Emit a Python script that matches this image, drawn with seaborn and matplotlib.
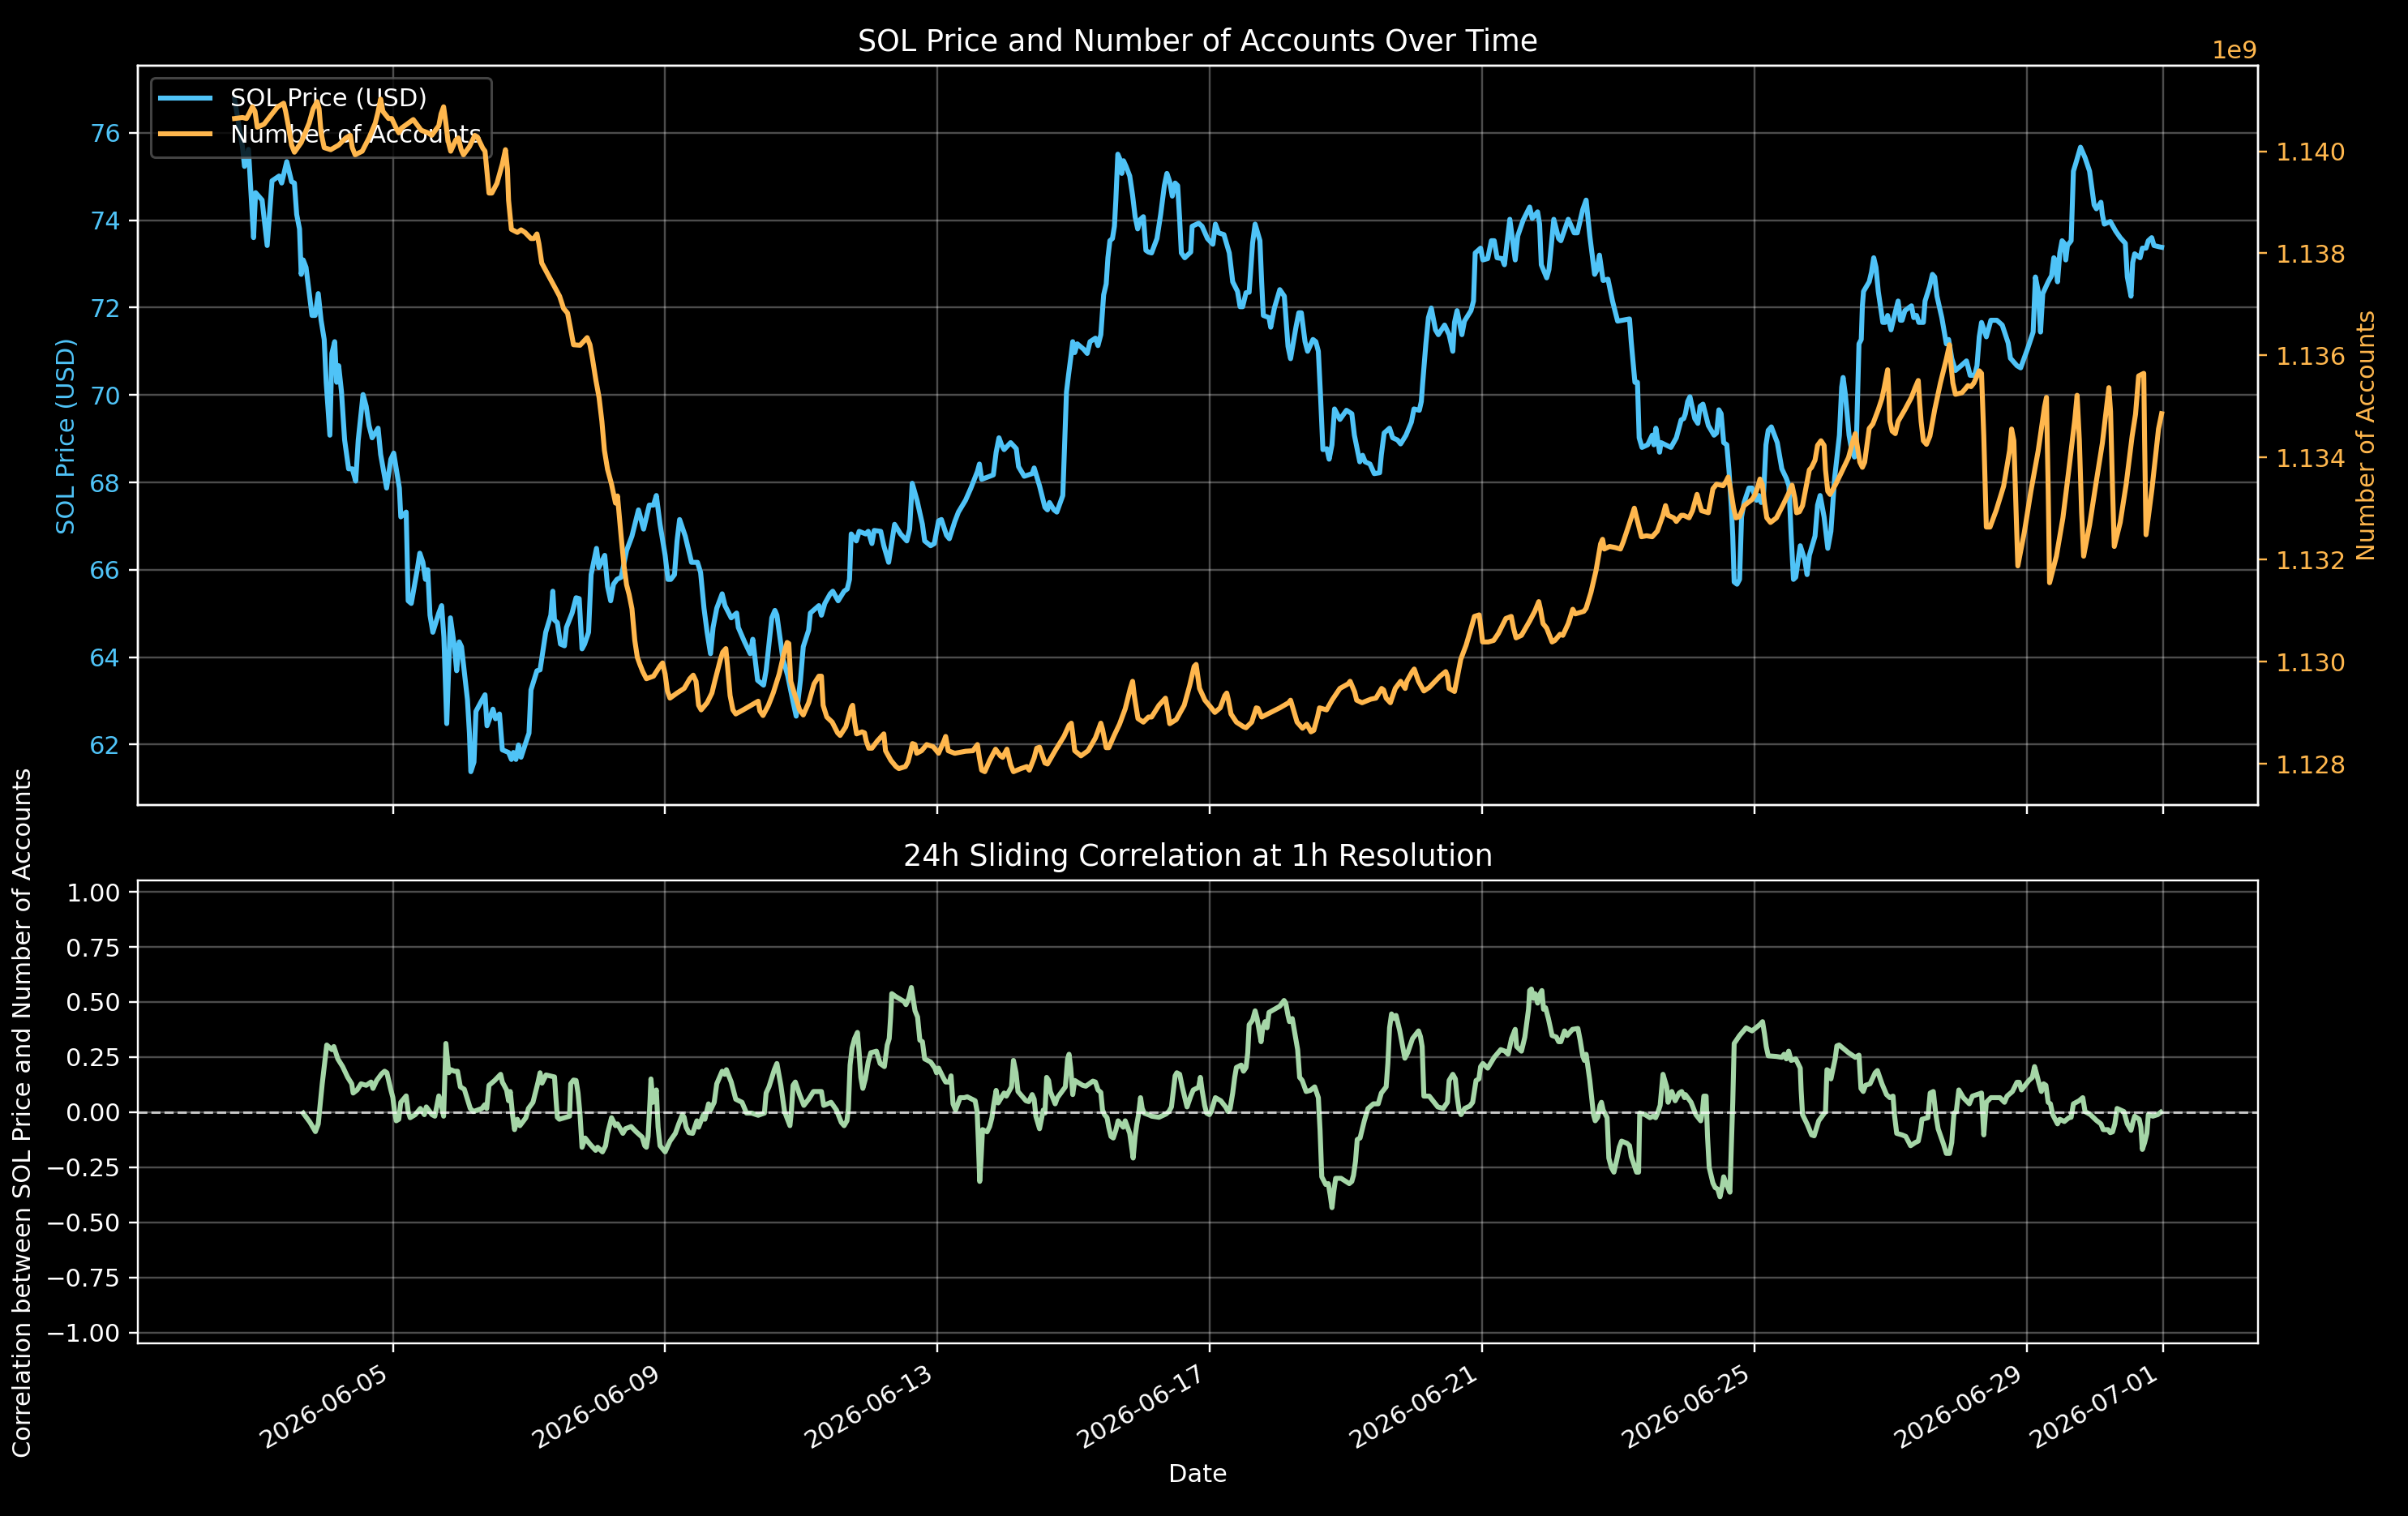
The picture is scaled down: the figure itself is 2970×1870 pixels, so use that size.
import pandas as pd
import matplotlib
matplotlib.use("Agg")
import matplotlib.pyplot as plt
import seaborn as sns

# ---------------- data ----------------
START = "2026-06-02 16:00"  # first hourly sample

price_hours = [
    0.2, 3.0, 3.7, 5.1, 6.9, 7.6, 9.9, 11.7, 13.4, 15.9,
    16.8, 18.6, 20.3, 21.3, 22.1, 23.1, 23.7, 24.4, 25.4, 27.5,
    28.6, 29.7, 30.7, 31.8, 32.5, 33.2, 33.8, 34.5, 35.5, 36.2,
    36.9, 37.9, 39.0, 40.4, 41.7, 42.9, 43.8, 45.5, 46.6, 47.6,
    48.7, 50.8, 51.7, 53.8, 55.3, 56.3, 58.3, 58.8, 60.7, 61.4,
    62.5, 64.6, 65.5, 66.6, 67.5, 68.3, 69.1, 70.1, 72.2, 73.2,
    74.0, 75.0, 76.3, 77.7, 78.5, 79.4, 80.2, 82.3, 83.0, 83.5,
    84.6, 85.3, 87.1, 88.5, 89.2, 91.3, 92.2, 93.6, 94.6, 96.8,
    97.8, 98.5, 99.4, 100.3, 101.2, 103.4, 104.0, 104.7, 106.8, 107.9,
    109.9, 111.7, 112.4, 113.0, 114.0, 115.1, 116.5, 117.2, 119.2, 120.6,
    121.7, 122.7, 123.6, 125.0, 125.9, 127.8, 128.6, 130.7, 131.7, 132.8,
    133.8, 135.0,
    136.5, 138.4, 140.3, 142.6, 144.4, 146.4, 147.9, 148.9, 150.2, 152.0,
    153.0, 154.0, 155.3, 156.2, 157.1, 159.1, 161.3, 163.4, 164.5, 165.7,
    166.8, 168.0, 168.9, 170.2, 172.1, 173.1, 175.3, 177.2, 177.8, 180.0,
    182.0, 182.9, 184.6, 186.7, 187.6, 189.6, 190.7, 191.4, 193.5, 195.2,
    197.1, 198.2, 199.7, 200.7, 202.6, 203.2, 206.2, 207.1, 208.3, 210.2,
    211.1, 213.0, 215.1, 216.2, 217.0, 217.6, 219.4, 220.4, 222.7, 223.6,
    224.9, 225.7, 228.0, 229.1, 230.8, 232.9, 235.0, 237.2, 238.2, 239.1,
    240.8, 242.7, 243.5, 245.6, 246.9, 248.4, 249.4, 251.2, 252.2, 254.1,
    255.4, 257.9, 259.8, 262.1, 262.8, 263.6, 267.7, 268.7, 269.7, 270.6,
    271.5, 273.8, 275.8, 276.6, 278.6, 281.4, 282.1, 284.0, 285.9, 286.8,
    287.5, 289.1, 290.1, 292.2, 292.9, 293.5, 294.2, 295.2, 295.7, 296.4,
    297.3, 299.5, 300.8, 301.8, 303.7, 304.6, 305.6, 306.6, 307.5, 308.1,
    308.8, 309.7, 310.4, 310.9, 311.6, 312.3, 313.0, 313.6, 314.5, 315.8,
    316.8, 317.7, 318.6, 319.6, 320.6, 321.5, 322.4,
    323.5, 325.4, 326.7, 328.0, 328.9, 329.9, 330.8, 331.8, 332.7, 333.4,
    334.0, 335.2, 337.3, 337.8, 340.1, 341.3, 343.2, 345.1, 346.0, 347.1,
    349.0, 350.9, 352.1, 353.8, 354.7, 355.6, 356.8, 357.9, 359.1, 360.0,
    361.7, 362.3, 362.9, 364.9, 365.5, 366.8, 368.7, 370.3, 371.6, 372.5,
    374.4, 375.4, 376.3, 377.6, 378.5, 380.4, 381.4, 382.3, 383.0, 383.9,
    385.3, 386.1, 387.1, 388.0, 389.9, 392.2, 394.1, 395.0, 396.9, 397.9,
    398.8, 400.5, 402.0, 403.9, 404.5, 405.5, 407.4, 408.5, 410.2, 411.3,
    413.2, 415.1, 416.0, 417.9, 418.6, 419.1, 420.2, 421.1, 422.1, 423.6,
    424.6, 426.8, 428.4, 429.7, 430.3, 431.2, 432.9, 433.8, 436.1, 437.0,
    437.6, 439.5, 440.3, 442.0, 443.3, 444.3, 445.3, 447.1, 447.9, 449.8,
    451.7, 452.6, 454.5, 456.8, 457.7, 459.6, 460.3, 460.9, 462.8, 463.6,
    465.3, 467.0, 467.8, 470.4, 472.5, 473.6, 475.5, 476.7, 478.0, 479.7,
    480.6, 481.4, 482.7, 484.4, 486.0, 487.8, 492.0, 492.6, 493.9, 494.8,
    495.4, 496.4, 498.4, 500.0, 500.6, 501.3, 502.6, 503.1, 504.7, 506.6,
    508.5, 510.2, 511.1,
    511.7, 512.5, 513.3, 515.0, 516.1, 516.9, 517.9, 519.8, 521.8, 522.7,
    523.5, 524.3, 525.2, 526.3, 527.1, 527.9, 528.4, 528.9, 529.9, 530.8,
    531.5, 532.4, 534.1, 535.2, 536.8, 537.6, 538.4, 539.2, 540.1, 540.9,
    542.0, 544.1, 545.7, 547.3, 548.2, 549.0, 549.8, 550.6, 552.2, 553.8,
    554.6, 555.4, 557.4, 558.3, 559.2, 560.6, 561.9, 563.0, 564.3, 566.0,
    566.8, 567.3, 568.1, 569.4, 570.3, 571.3, 572.0, 572.9, 573.7, 574.1,
    574.5, 576.5, 577.3, 578.1, 578.9, 579.7, 581.3, 582.1, 583.0, 584.2,
    585.4, 586.7, 587.5, 588.1, 589.1, 591.4, 592.2, 593.2, 594.0, 595.6,
    596.2, 597.8, 598.8, 599.6, 600.4, 602.1, 603.7, 604.5, 605.6, 606.9,
    608.9, 610.8, 612.1, 613.7, 614.5, 615.3, 616.1, 617.8, 619.4, 621.5,
    623.4, 625.5, 626.3, 628.6, 629.9, 632.3, 634.3, 635.1, 636.1, 636.9,
    637.7, 639.6, 640.8, 641.6, 642.1, 642.9, 643.7, 644.5, 645.3, 645.8,
    646.4, 647.7, 648.5, 649.3, 651.0, 652.6, 654.2, 655.0, 655.8, 656.6,
    658.2, 658.7, 659.4, 661.5, 663.4, 665.0, 666.8, 667.5, 668.8, 669.4,
    670.1, 672.0, 672.8, 674.1, 674.9, 676.1, 676.9, 678.8, 679.6,
]
price_usd = [
    76.77, 75.67, 75.23, 75.62, 73.60, 74.63, 74.46, 73.42, 74.90, 75.01,
    74.85, 75.34, 74.88, 74.85, 74.13, 73.80, 72.76, 73.09, 72.92, 71.82,
    71.82, 72.32, 71.71, 71.27, 70.29, 69.63, 69.08, 70.95, 71.22, 70.29,
    70.67, 70.07, 68.97, 68.31, 68.31, 68.03, 68.97, 70.01, 69.74, 69.30,
    69.02, 69.24, 68.64, 67.87, 68.53, 68.67, 67.87, 67.21, 67.32, 65.29,
    65.23, 66.00, 66.38, 66.17, 65.78, 66.00, 64.96, 64.57, 65.01, 65.18,
    64.46, 62.48, 64.90, 64.24, 63.69, 64.35, 64.24, 63.03, 62.26, 61.38,
    61.60, 62.76, 62.98, 63.14, 62.43, 62.81, 62.59, 62.70, 61.88, 61.82,
    61.66, 61.82, 61.66, 61.99, 61.71, 62.15, 62.26, 63.25, 63.69, 63.71,
    64.57, 64.96, 65.51, 64.85, 64.79, 64.30, 64.26, 64.68, 65.01, 65.36,
    65.34, 64.19, 64.30, 64.57, 65.89, 66.49, 66.05, 66.33, 65.62, 65.29,
    65.67, 65.78,
    65.83, 66.44, 66.77, 67.37, 66.93, 67.48, 67.48, 67.70, 67.04, 66.33,
    65.78, 65.78, 65.89, 66.66, 67.15, 66.77, 66.17, 66.17, 65.94, 65.12,
    64.57, 64.08, 64.68, 65.12, 65.45, 65.18, 64.90, 65.01, 64.68, 64.35,
    64.08, 64.41, 63.47, 63.36, 63.69, 64.90, 65.07, 64.96, 63.97, 63.58,
    62.98, 62.65, 63.47, 64.24, 64.62, 65.01, 65.18, 64.96, 65.23, 65.45,
    65.51, 65.29, 65.51, 65.56, 65.78, 66.82, 66.66, 66.88, 66.82, 66.88,
    66.60, 66.90, 66.88, 66.55, 66.17, 67.04, 66.82, 66.66, 66.93, 67.98,
    67.59, 67.04, 66.66, 66.55, 66.60, 67.12, 67.15, 66.79, 66.71, 67.10,
    67.32, 67.59, 67.87, 68.25, 68.42, 68.07, 68.17, 68.69, 69.02, 68.86,
    68.75, 68.91, 68.77, 68.36, 68.14, 68.20, 68.33, 67.92, 67.43, 67.37,
    67.54, 67.37, 67.32, 67.70, 68.97, 70.07, 70.45, 70.95, 71.22, 70.97,
    71.17, 71.05, 70.95, 71.22, 71.30, 71.13, 71.38, 72.29, 72.54, 73.14,
    73.53, 73.58, 73.86, 74.46, 75.51, 75.40, 75.07, 75.36, 75.23, 75.01,
    74.57, 74.08, 73.80, 74.02, 74.08, 73.31, 73.27,
    73.25, 73.58, 74.13, 74.79, 75.07, 74.88, 74.55, 74.85, 74.79, 74.02,
    73.25, 73.14, 73.27, 73.86, 73.93, 73.86, 73.58, 73.45, 73.91, 73.71,
    73.67, 73.25, 72.59, 72.37, 72.02, 72.02, 72.34, 72.35, 73.47, 73.91,
    73.53, 72.59, 71.82, 71.77, 71.55, 71.99, 72.41, 72.26, 71.11, 70.83,
    71.55, 71.88, 71.88, 71.22, 71.00, 71.27, 71.22, 71.00, 70.07, 68.75,
    68.77, 68.53, 68.86, 69.68, 69.44, 69.65, 69.57, 69.08, 68.47, 68.62,
    68.47, 68.42, 68.20, 68.22, 68.63, 69.13, 69.24, 69.02, 68.97, 68.88,
    69.08, 69.38, 69.68, 69.65, 69.85, 70.29, 71.17, 71.77, 71.99, 71.49,
    71.38, 71.60, 71.38, 71.00, 71.66, 71.93, 71.38, 71.69, 71.93, 72.15,
    73.25, 73.36, 73.09, 73.12, 73.53, 73.53, 73.14, 73.12, 72.98, 74.02,
    73.09, 73.64, 74.00, 74.30, 74.04, 74.19, 73.91, 72.98, 72.68, 72.87,
    74.02, 73.58, 73.53, 74.02, 73.71, 73.71, 74.24, 74.46, 73.64, 72.76,
    72.87, 73.20, 72.62, 72.65, 72.15, 71.69, 71.74, 71.22, 70.29, 70.29,
    69.02, 68.80, 68.86, 69.08, 68.86, 69.24, 68.69, 68.91, 68.86, 68.80,
    69.02, 69.43, 69.46,
    69.57, 69.85, 69.96, 69.46, 69.35, 69.74, 69.79, 69.30, 69.08, 69.13,
    69.66, 69.57, 68.91, 68.86, 68.25, 67.43, 66.77, 65.72, 65.67, 65.78,
    67.21, 67.54, 67.87, 67.87, 67.59, 67.70, 67.54, 67.65, 68.86, 69.19,
    69.27, 68.91, 68.31, 68.09, 67.92, 66.77, 65.78, 65.83, 66.55, 66.22,
    65.89, 66.33, 66.77, 67.48, 67.70, 67.21, 66.49, 66.88, 68.09, 69.08,
    70.18, 70.40, 70.01, 69.08, 68.75, 68.58, 68.97, 71.17, 71.27, 72.04,
    72.37, 72.59, 72.81, 73.14, 72.92, 72.37, 71.66, 71.66, 71.82, 71.49,
    71.82, 72.15, 71.71, 71.71, 71.93, 72.04, 71.77, 71.82, 71.66, 71.66,
    72.15, 72.48, 72.76, 72.70, 72.26, 71.77, 71.17, 71.27, 70.84, 70.56,
    70.67, 70.78, 70.45, 70.45, 70.67, 71.33, 71.66, 71.33, 71.71, 71.71,
    71.60, 71.19, 70.84, 70.67, 70.62, 71.05, 71.44, 72.70, 72.37, 71.44,
    72.32, 72.59, 72.73, 73.14, 73.09, 72.59, 73.25, 73.53, 73.47, 73.09,
    73.42, 73.53, 75.12, 75.29, 75.67, 75.43, 75.12, 74.74, 74.35, 74.26,
    74.41, 74.13, 73.91, 73.97, 73.75, 73.60, 73.47, 72.70, 72.26, 73.03,
    73.23, 73.14, 73.36, 73.36, 73.53, 73.60, 73.42, 73.39, 73.38,
]

account_hours = [
    0.2, 3.0, 4.4, 5.3, 6.5, 7.4, 8.2, 10.6, 13.1, 15.4,
    17.5, 18.2, 19.3, 20.3, 21.3, 23.7, 26.5, 27.9, 29.3, 30.0,
    30.7, 31.8, 34.1, 36.9, 39.4, 41.0, 41.7, 42.7, 45.2, 47.6,
    49.8, 50.7, 51.7, 52.5, 54.5, 55.6, 57.2, 58.1, 59.0, 63.2,
    66.0, 68.4, 69.7, 72.2, 73.0, 73.9, 74.7, 75.4, 76.4, 78.2,
    79.1, 80.1, 80.9, 83.0, 84.9, 85.8, 87.7, 88.5, 89.1, 89.9,
    90.9, 92.7, 94.6, 95.7, 96.4, 96.8, 97.8, 99.9, 101.2, 102.6,
    104.7, 105.7, 106.8, 107.5, 108.5, 111.2, 113.7, 114.8, 116.2, 117.6,
    118.6, 119.7, 122.0, 124.5, 125.5, 126.4, 127.6, 128.7, 129.7, 130.6,
    131.7, 133.1, 134.5,
    135.2, 136.5, 137.5, 138.4, 139.3, 140.3, 141.3, 142.2, 143.1, 144.1,
    145.4, 147.9, 150.2, 151.1, 152.0, 152.8, 153.7, 156.2, 158.7, 160.7,
    161.9, 162.9, 163.8, 164.7, 166.8, 168.5, 169.5, 171.5, 172.3, 173.4,
    174.0, 174.9, 175.9, 176.9, 179.5, 182.9, 184.8, 185.4, 186.5, 188.4,
    190.1, 192.2, 194.0, 195.0, 195.6, 196.3, 197.3, 199.4, 200.7, 202.6,
    204.5, 206.2, 207.1, 207.7, 209.0, 210.9, 212.8, 213.7, 215.7, 217.6,
    218.1, 218.8, 219.5, 221.4, 222.3, 222.9, 223.8, 224.9, 226.8, 229.1,
    229.7, 231.6, 233.4, 234.4, 236.7, 237.6, 238.5, 239.2, 240.1, 240.7,
    242.4, 244.2, 246.5, 248.4, 250.3, 250.9, 251.8, 254.1, 257.9, 260.5,
    262.1, 262.8, 263.6, 264.7, 266.4, 268.5, 270.2, 271.0, 272.5, 273.8,
    274.8, 277.4, 279.5, 280.4, 282.1, 283.0, 284.0, 285.9, 286.8, 289.7,
    292.6, 294.4, 295.2, 295.7, 296.4, 298.6, 301.1, 303.7, 305.6, 306.2,
    307.5, 308.4, 310.4, 312.2, 314.2, 316.0, 316.8, 317.4, 318.7, 320.6,
    322.4,
    323.5, 326.1, 328.4, 329.3, 329.9, 332.2, 335.0, 336.9, 338.5, 339.2,
    339.8, 340.4, 342.3, 344.1, 345.8, 347.7, 349.3, 350.0, 350.6, 351.5,
    353.4, 355.9, 356.8, 358.8, 360.4, 361.0, 362.3, 365.5, 368.7, 371.8,
    372.5, 373.4, 374.8, 376.7, 378.2, 379.7, 380.7, 382.0, 382.7, 385.2,
    387.1, 389.9, 392.8, 393.5, 395.1, 395.8, 397.7, 400.8, 402.6, 404.6,
    405.3, 406.2, 407.7, 409.4, 411.3, 412.9, 413.5, 415.3, 416.1, 417.6,
    419.5, 421.4, 425.2, 427.2, 427.8, 428.4, 430.3, 431.0, 432.5, 434.4,
    436.4, 437.3, 439.0, 439.5, 440.2, 442.2, 444.1, 445.8, 448.4, 450.3,
    451.1, 452.0, 453.9, 456.8, 458.6, 460.0, 460.6, 461.5, 462.8, 464.7,
    465.7, 467.5, 468.5, 470.4, 472.0, 472.9, 475.9, 476.7, 478.4, 480.2,
    481.8, 482.5, 483.1, 485.0, 486.9, 488.8, 489.8, 491.6, 493.7, 494.3,
    496.2, 498.0, 500.0, 501.8, 503.8, 504.7, 505.6, 507.6, 508.5, 510.2,
    511.1,
    513.0, 514.2, 515.8, 516.6, 517.4, 519.8, 520.6, 521.4, 522.7, 525.0,
    526.0, 526.8, 527.6, 528.7, 529.5, 530.7, 532.4, 535.2, 536.3, 537.3,
    538.0, 538.8, 539.6, 540.4, 541.7, 543.8, 546.0, 548.1, 549.3, 550.3,
    550.9, 551.9, 553.0, 554.6, 555.4, 556.2, 557.4, 558.3, 559.5, 560.6,
    561.1, 561.9, 562.7, 564.7, 566.8, 569.2, 570.8, 571.6, 572.4, 573.2,
    574.1, 574.9, 575.7, 576.5, 577.8, 579.7, 581.0, 581.8, 583.0, 583.4,
    583.8, 584.6, 585.7, 586.7, 589.1, 591.4, 592.7, 593.8, 594.3, 594.8,
    595.6, 596.7, 597.9, 599.6, 601.6, 603.7, 604.8, 605.3, 606.0, 606.9,
    609.2, 611.3, 612.4, 613.4, 615.3, 616.1, 616.9, 617.8, 619.1, 621.3,
    623.9, 626.0, 626.7, 627.5, 628.3, 628.9, 631.2, 633.5, 636.1, 638.3,
    639.0, 639.6, 640.1, 642.5, 644.8, 646.9, 649.0, 649.8, 650.6, 651.4,
    652.1, 654.2, 656.3, 658.7, 659.9, 661.0, 661.6, 662.3, 662.9, 665.0,
    667.1, 669.2, 670.4, 671.5, 673.3, 673.6, 674.1, 676.2, 678.5, 679.6,
]
accounts_millions = [
    1140.64, 1140.66, 1140.64, 1140.73, 1140.87, 1140.78, 1140.47, 1140.53, 1140.71, 1140.87,
    1140.94, 1140.78, 1140.45, 1140.12, 1139.98, 1140.17, 1140.55, 1140.83, 1140.97, 1140.83,
    1140.36, 1140.07, 1140.03, 1140.12, 1140.26, 1140.31, 1140.07, 1139.93, 1140.00, 1140.26,
    1140.55, 1140.75, 1141.02, 1140.78, 1140.64, 1140.64, 1140.45, 1140.36, 1140.45, 1140.62,
    1140.41, 1140.36, 1140.31, 1140.50, 1140.73, 1140.87, 1140.55, 1140.22, 1140.00, 1140.22,
    1140.26, 1140.03, 1139.93, 1140.09, 1140.31, 1140.28, 1140.06, 1140.00, 1139.65, 1139.18,
    1139.18, 1139.37, 1139.75, 1140.03, 1139.65, 1139.04, 1138.47, 1138.41, 1138.46, 1138.41,
    1138.29, 1138.29, 1138.38, 1138.19, 1137.81, 1137.53, 1137.27, 1137.16, 1136.92, 1136.83,
    1136.54, 1136.21, 1136.20, 1136.35, 1136.21, 1135.93, 1135.51, 1135.18, 1134.71, 1134.14,
    1133.77, 1133.48, 1133.11,
    1133.25, 1132.45, 1131.88, 1131.51, 1131.32, 1131.04, 1130.42, 1130.09, 1129.95, 1129.81,
    1129.67, 1129.72, 1129.92, 1129.98, 1129.76, 1129.43, 1129.29, 1129.39, 1129.48, 1129.67,
    1129.74, 1129.62, 1129.15, 1129.06, 1129.20, 1129.39, 1129.62, 1130.05, 1130.19, 1130.26,
    1129.91, 1129.34, 1129.06, 1128.98, 1129.06, 1129.17, 1129.23, 1129.04, 1128.95, 1129.15,
    1129.39, 1129.76, 1130.19, 1130.38, 1130.36, 1129.62, 1129.43, 1129.06, 1128.96, 1129.20,
    1129.57, 1129.72, 1129.72, 1129.15, 1128.92, 1128.82, 1128.61, 1128.56, 1128.73, 1129.11,
    1129.15, 1128.82, 1128.59, 1128.63, 1128.61, 1128.45, 1128.31, 1128.31, 1128.45, 1128.59,
    1128.26, 1128.07, 1127.95, 1127.91, 1127.95, 1128.04, 1128.23, 1128.40, 1128.38, 1128.21,
    1128.26, 1128.38, 1128.34, 1128.21, 1128.45, 1128.54, 1128.26, 1128.21, 1128.25, 1128.26,
    1128.38, 1128.12, 1127.88, 1127.85, 1128.07, 1128.29, 1128.16, 1128.13, 1128.29, 1127.98,
    1127.85, 1127.91, 1127.95, 1127.88, 1128.12, 1128.31, 1128.33, 1128.02, 1128.00, 1128.28,
    1128.54, 1128.76, 1128.80, 1128.59, 1128.26, 1128.16, 1128.26, 1128.51, 1128.80, 1128.68,
    1128.32, 1128.32, 1128.57, 1128.78, 1129.08, 1129.48, 1129.62, 1129.34, 1128.89, 1128.82,
    1128.92,
    1128.92, 1129.15, 1129.29, 1129.01, 1128.79, 1128.87, 1129.15, 1129.53, 1129.91, 1129.95,
    1129.72, 1129.48, 1129.25, 1129.13, 1129.01, 1129.10, 1129.34, 1129.39, 1129.25, 1128.98,
    1128.82, 1128.73, 1128.71, 1128.82, 1129.10, 1129.09, 1128.92, 1129.01, 1129.10, 1129.20,
    1129.25, 1129.08, 1128.82, 1128.70, 1128.78, 1128.63, 1128.66, 1128.92, 1129.10, 1129.06,
    1129.25, 1129.48, 1129.57, 1129.62, 1129.41, 1129.25, 1129.20, 1129.27, 1129.29, 1129.48,
    1129.45, 1129.29, 1129.20, 1129.48, 1129.62, 1129.48, 1129.62, 1129.80, 1129.86, 1129.62,
    1129.43, 1129.50, 1129.72, 1129.81, 1129.72, 1129.48, 1129.42, 1129.62, 1130.05, 1130.33,
    1130.71, 1130.89, 1130.92, 1130.71, 1130.39, 1130.39, 1130.42, 1130.56, 1130.85, 1130.89,
    1130.66, 1130.47, 1130.52, 1130.80, 1130.99, 1131.18, 1131.03, 1130.75, 1130.66, 1130.39,
    1130.42, 1130.54, 1130.52, 1130.75, 1131.03, 1130.94, 1130.99, 1131.05, 1131.36, 1131.79,
    1132.31, 1132.40, 1132.21, 1132.26, 1132.24, 1132.21, 1132.35, 1132.65, 1133.01, 1132.87,
    1132.45, 1132.47, 1132.45, 1132.56, 1132.87, 1133.06, 1132.87, 1132.82, 1132.75, 1132.87,
    1132.87,
    1132.82, 1132.96, 1133.28, 1133.11, 1132.96, 1132.92, 1133.15, 1133.39, 1133.48, 1133.45,
    1133.53, 1133.62, 1133.39, 1133.01, 1132.82, 1132.84, 1133.06, 1133.18, 1133.28, 1133.44,
    1133.58, 1133.48, 1133.11, 1132.82, 1132.73, 1132.82, 1133.06, 1133.30, 1133.46, 1133.20,
    1132.92, 1132.94, 1133.06, 1133.53, 1133.76, 1133.81, 1133.95, 1134.24, 1134.33, 1134.24,
    1133.76, 1133.34, 1133.28, 1133.48, 1133.72, 1134.00, 1134.33, 1134.47, 1134.19, 1133.91,
    1133.81, 1133.91, 1134.24, 1134.57, 1134.66, 1134.94, 1135.16, 1135.37, 1135.72, 1135.27,
    1134.71, 1134.52, 1134.47, 1134.71, 1134.94, 1135.18, 1135.37, 1135.51, 1135.08, 1134.71,
    1134.33, 1134.26, 1134.42, 1134.94, 1135.46, 1135.93, 1136.21, 1135.84, 1135.46, 1135.24,
    1135.27, 1135.41, 1135.39, 1135.46, 1135.70, 1135.65, 1134.42, 1132.64, 1132.64, 1132.97,
    1133.44, 1134.14, 1134.56, 1134.33, 1132.92, 1131.88, 1132.54, 1133.34, 1134.14, 1134.99,
    1135.18, 1133.39, 1131.55, 1132.07, 1132.82, 1133.77, 1134.75, 1135.22, 1134.33, 1132.92,
    1132.07, 1132.68, 1133.44, 1134.28, 1134.85, 1135.37, 1134.90, 1133.39, 1132.26, 1132.73,
    1133.48, 1134.42, 1134.85, 1135.60, 1135.65, 1134.33, 1132.49, 1133.39, 1134.56, 1134.86,
]

corr_hours = [
    24.4, 26.8, 28.7, 29.7, 31.1, 32.7, 34.5, 35.2, 36.6, 38.3,
    40.1, 41.5, 42.0, 43.4, 44.8, 46.6, 48.3, 49.0, 50.3, 52.1,
    53.1, 53.9, 55.3, 56.0, 56.6, 57.2, 58.1, 58.8, 60.7, 61.4,
    62.1, 63.9, 65.7, 67.1, 67.8, 69.8, 70.8, 72.2, 73.0, 73.9,
    74.7, 75.7, 76.4, 77.7, 78.8, 79.8, 81.2, 83.3, 84.4, 87.4,
    88.4, 89.1, 89.9, 91.9, 94.0, 94.6, 96.1, 96.8, 97.4, 98.2,
    98.9, 99.9, 100.8, 102.9, 103.8, 105.4, 107.2, 107.9, 108.6, 110.0,
    113.0, 113.4, 114.0, 114.7, 118.3, 118.7, 119.7, 120.6, 121.3, 122.0,
    122.7, 123.8, 125.5, 127.5, 128.2, 129.9, 131.0, 131.7, 133.1, 134.5,
    135.2, 137.1, 138.0, 140.0, 141.8, 143.9, 144.8, 145.4, 146.0, 146.7,
    147.0, 147.7, 148.4, 148.9, 149.5, 150.2, 152.0, 153.7, 155.6, 156.8,
    158.1, 158.7, 159.4, 160.4, 161.7, 163.2, 163.8, 165.5, 166.0, 167.3,
    168.0, 169.3, 170.2, 172.1, 173.0, 173.6, 175.3, 176.9, 179.1, 180.7,
    182.5, 184.8, 187.0, 187.6, 188.6, 190.5, 191.4, 192.8, 194.1, 196.0,
    196.5, 197.1, 197.9, 199.4, 200.9, 202.6, 204.3, 207.1, 207.9, 210.5,
    212.4, 214.1, 215.1, 216.1, 216.6, 217.2, 217.9, 218.8, 219.8, 220.4,
    221.0, 221.7, 222.6, 223.6, 224.5, 226.5, 227.8, 229.3, 230.3, 231.0,
    231.5, 231.9, 233.4, 236.3, 236.9, 237.9, 238.8, 239.5, 240.1, 241.0,
    241.8, 242.7, 243.5, 245.6, 247.1, 247.7, 248.4, 250.0, 250.9, 252.2,
    252.8, 253.5, 254.4, 256.0, 257.5, 258.5, 261.3, 262.0, 262.4, 262.9,
    263.4, 263.9, 265.5, 266.4, 267.2, 267.8, 268.7, 269.4, 271.5, 272.3,
    274.1, 274.8, 275.7, 276.4, 279.2, 280.2, 281.4, 282.1, 282.7, 284.0,
    285.3, 285.9, 286.5, 287.2, 287.8, 289.5, 290.3, 293.1, 293.9, 294.4,
    295.0, 295.7, 296.4, 299.2, 300.3, 302.8, 303.7, 304.6, 305.6, 306.2,
    306.9, 307.8, 308.4, 309.2, 310.0, 310.9, 311.7, 312.6, 313.5, 314.2,
    315.8, 316.4, 317.0, 317.7, 318.3, 318.9, 319.6, 320.2, 320.9, 323.1,
    323.5, 326.1, 328.6, 329.6, 330.5, 331.2, 331.8, 332.4, 333.4, 334.3,
    335.2, 336.0, 337.3, 338.2, 340.1, 340.7, 341.3, 342.2, 342.9, 343.9,
    344.5, 346.0, 347.9, 349.6, 350.5, 351.2, 352.1, 352.8, 353.4, 355.1,
    355.9, 356.8, 357.4, 357.9, 359.1, 360.0, 360.7, 362.1, 362.7, 363.5,
    364.2, 364.9, 366.8, 368.7, 370.2, 370.8, 371.6, 372.1, 373.1, 374.4,
    375.0, 375.7, 376.6, 378.0, 379.5, 381.0, 382.3, 382.9, 383.5, 384.9,
    385.8, 386.5, 387.1, 387.7, 388.4, 390.3, 393.2, 394.1, 394.7, 395.4,
    396.0, 397.0, 398.5, 399.8, 401.7, 403.4, 404.5, 406.2, 406.8, 407.4,
    408.1, 409.0, 409.7, 411.0, 412.8, 413.8, 415.5, 417.6, 418.3, 418.9,
    419.5, 421.4, 424.4, 426.3, 427.8, 428.4, 429.7, 430.6, 431.2, 431.9,
    432.6, 433.9, 435.7, 436.7, 437.9, 438.9, 439.5, 440.3, 442.0, 444.3,
    446.6, 448.1, 449.2, 450.4, 451.7, 452.2, 453.9, 455.1, 456.4, 456.8,
    457.4, 458.1, 458.7, 459.6, 460.5, 461.1, 461.7, 462.4, 463.4, 464.7,
    466.2, 467.0, 467.8, 469.1, 470.0, 471.9, 473.8, 474.6, 475.5, 476.1,
    476.7, 478.0, 479.3, 479.9, 480.8, 481.6, 482.1, 482.7, 484.1, 484.7,
    485.6, 486.5, 487.5, 488.4, 489.2, 491.1, 492.0, 492.6, 494.5, 495.2,
    495.6, 497.5, 499.2, 500.3, 501.2, 501.9, 502.8, 503.8, 505.1, 505.6,
    506.9, 508.1, 509.5, 510.4, 511.4,
    511.7, 513.7, 515.4, 517.1, 517.7, 518.2, 519.0, 519.5, 520.1, 521.4,
    522.2, 523.1, 523.9, 524.7, 525.2, 526.0, 527.4, 527.9, 528.4, 528.9,
    530.8, 533.1, 535.2, 537.9, 538.9, 539.6, 540.2, 540.9, 543.8, 545.7,
    546.5, 547.3, 548.1, 549.0, 550.6, 552.2, 552.5, 553.0, 554.6, 556.2,
    557.1, 558.7, 560.3, 561.1, 561.6, 562.4, 563.0, 564.5, 565.1, 565.9,
    569.2, 571.6, 572.9, 573.6, 574.4, 575.2, 576.8, 578.6, 579.4, 581.0,
    582.6, 583.8, 584.9, 585.4, 586.2, 588.1, 589.4, 591.1, 592.7, 593.8,
    594.6, 595.1, 597.2, 598.0, 599.1, 600.0, 600.8, 602.7, 603.7, 604.8,
    605.6, 606.4, 607.2, 608.1, 609.7, 611.8, 612.9, 616.1, 616.9, 617.8,
    619.4, 622.6, 624.2, 625.1, 627.0, 628.6, 629.4, 630.2, 632.8, 634.0,
    634.8, 635.6, 636.4, 637.2, 638.0, 638.8, 639.6, 640.4, 641.2, 642.9,
    643.7, 645.3, 646.9, 647.7, 648.5, 650.5, 651.8, 652.6, 654.5, 656.6,
    658.2, 659.0, 660.7, 661.5, 662.3, 663.1, 663.9, 666.3, 667.5, 668.8,
    669.6, 670.1, 671.7, 672.3, 672.8, 673.6, 674.4, 674.9, 676.5, 678.2,
    679.3,
]
corr_values = [
    -0.004, -0.046, -0.088, -0.053, 0.129, 0.305, 0.284, 0.298, 0.242, 0.207,
    0.158, 0.129, 0.087, 0.101, 0.129, 0.122, 0.137, 0.108, 0.144, 0.175,
    0.186, 0.179, 0.101, 0.067, 0.003, -0.039, -0.032, 0.045, 0.074, 0.003,
    -0.025, -0.011, 0.017, -0.011, 0.024, -0.011, -0.018, 0.074, 0.038, -0.018,
    0.312, 0.179, 0.193, 0.186, 0.186, 0.115, 0.104, 0.017, 0.003, 0.017,
    0.034, 0.017, 0.122, 0.144, 0.172, 0.137, 0.101, 0.052, 0.094, -0.011,
    -0.079, -0.032, -0.061, -0.025, 0.017, 0.045, 0.137, 0.179, 0.132, 0.169,
    0.160, 0.080, -0.023, -0.032, -0.018, 0.129, 0.146, 0.144, 0.087, -0.011,
    -0.159, -0.117, -0.145, -0.173, -0.159, -0.180, -0.152, -0.096, -0.025, -0.061,
    -0.053, -0.096, -0.075, -0.065, -0.089, -0.113, -0.152, -0.159, -0.110, 0.059,
    0.151, 0.045, 0.073, 0.101, -0.068, -0.152, -0.180, -0.131, -0.096, -0.053,
    -0.011, -0.023, -0.068, -0.093, -0.096, -0.039, -0.068, -0.011, -0.032, 0.038,
    0.010, 0.045, 0.129, 0.186, 0.172, 0.193, 0.137, 0.059, 0.045, -0.004,
    -0.004, -0.014, -0.004, 0.087, 0.115, 0.193, 0.221, 0.122, 0.003, -0.061,
    0.003, 0.122, 0.137, 0.080, 0.031, 0.059, 0.094, 0.094, 0.031, 0.045,
    0.010, -0.046, -0.061, -0.039, 0.017, 0.214, 0.291, 0.334, 0.362, 0.270,
    0.158, 0.108, 0.151, 0.228, 0.270, 0.277, 0.221, 0.207, 0.305, 0.334,
    0.432, 0.538, 0.524, 0.502, 0.488, 0.517, 0.566, 0.510, 0.460, 0.432,
    0.327, 0.320, 0.242, 0.228, 0.200, 0.179, 0.200, 0.158, 0.137, 0.137,
    0.165, 0.038, 0.010, 0.066, 0.066, 0.070, 0.052, 0.003, -0.124, -0.314,
    -0.208, -0.079, -0.089, -0.065, -0.025, 0.031, 0.099, 0.042, 0.087, 0.073,
    0.115, 0.235, 0.179, 0.094, 0.052, 0.048, 0.080, 0.059, -0.018, -0.075,
    0.010, -0.004, 0.158, 0.144, 0.094, 0.038, 0.066, 0.115, 0.242, 0.263,
    0.200, 0.080, 0.144, 0.122, 0.118, 0.141, 0.137, 0.101, 0.090, 0.010,
    -0.011, -0.025, -0.068, -0.110, -0.117, -0.082, -0.039, -0.053, -0.068, -0.039,
    -0.096, -0.152, -0.208, -0.110, -0.053, -0.011, 0.066, 0.017, -0.004, -0.015,
    -0.018, -0.023, -0.008, 0.003, 0.024, 0.101, 0.165, 0.179, 0.172, 0.115,
    0.066, 0.024, 0.073, 0.101, 0.113, 0.158, 0.101, 0.031, -0.004, -0.011,
    0.003, 0.066, 0.052, 0.024, 0.003, 0.017, 0.087, 0.158, 0.203, 0.214,
    0.186, 0.203, 0.270, 0.397, 0.418, 0.460, 0.425, 0.320, 0.383, 0.411,
    0.383, 0.453, 0.467, 0.481, 0.507, 0.495, 0.439, 0.411, 0.425, 0.327,
    0.284, 0.158, 0.144, 0.094, 0.099, 0.115, 0.066, -0.082, -0.293, -0.328,
    -0.324, -0.377, -0.433, -0.363, -0.300, -0.300, -0.324, -0.314, -0.286, -0.222,
    -0.124, -0.117, -0.039, 0.017, 0.038, 0.038, 0.087, 0.115, 0.221, 0.383,
    0.446, 0.425, 0.439, 0.369, 0.245, 0.270, 0.334, 0.369, 0.343, 0.298,
    0.073, 0.073, 0.024, 0.017, 0.045, 0.144, 0.172, 0.151, 0.073, 0.010,
    -0.011, 0.017, 0.028, 0.045, 0.144, 0.151, 0.207, 0.221, 0.200, 0.249,
    0.284, 0.277, 0.263, 0.334, 0.376, 0.298, 0.277, 0.341, 0.467, 0.552,
    0.559, 0.517, 0.538, 0.495, 0.538, 0.552, 0.467, 0.474, 0.425, 0.348,
    0.341, 0.320, 0.320, 0.369, 0.348, 0.376, 0.380, 0.327, 0.256, 0.235,
    0.263, 0.144, -0.011, -0.039, -0.023, 0.031, 0.045, 0.010, -0.025, -0.208,
    -0.251, -0.272, -0.215, -0.159, -0.131, -0.141, -0.152, -0.201, -0.272, -0.272,
    -0.004, -0.011, -0.025, -0.018, -0.025, -0.004, 0.031, 0.172, 0.115, 0.045,
    0.094, 0.052, 0.087, 0.094, 0.066,
    0.080, 0.045, -0.011, -0.039, 0.003, 0.073, 0.073, -0.110, -0.251, -0.321,
    -0.342, -0.349, -0.384, -0.335, -0.293, -0.321, -0.363, -0.152, 0.045, 0.312,
    0.348, 0.383, 0.369, 0.397, 0.411, 0.355, 0.298, 0.256, 0.253, 0.249,
    0.263, 0.242, 0.277, 0.235, 0.242, 0.200, 0.101, -0.011, -0.053, -0.103,
    -0.107, -0.039, -0.011, 0.003, 0.193, 0.186, 0.151, 0.242, 0.301, 0.305,
    0.270, 0.249, 0.259, 0.108, 0.094, 0.122, 0.129, 0.179, 0.189, 0.129,
    0.080, 0.066, 0.073, -0.011, -0.096, -0.103, -0.110, -0.152, -0.138, -0.131,
    -0.082, -0.032, -0.025, 0.087, 0.094, -0.011, -0.075, -0.145, -0.187, -0.187,
    -0.138, -0.004, 0.003, 0.101, 0.066, 0.038, 0.073, 0.087, -0.103, 0.045,
    0.066, 0.066, 0.045, 0.073, 0.094, 0.136, 0.136, 0.101, 0.144, 0.158,
    0.207, 0.169, 0.129, 0.094, 0.129, 0.122, 0.045, 0.038, -0.011, -0.053,
    -0.032, -0.042, -0.025, -0.023, 0.038, 0.052, 0.066, 0.003, -0.011, -0.037,
    -0.053, -0.079, -0.079, -0.093, -0.089, -0.053, 0.017, 0.003, -0.053, -0.082,
    -0.039, -0.018, -0.032, -0.068, -0.169, -0.138, -0.096, -0.011, -0.018, -0.011,
    0.000,
]

# ---------------- style ----------------
plt.style.use("dark_background")
plt.rcParams["font.family"] = ["DejaVu Sans"]

BLUE = "#4FC3F7"
ORANGE = "#FFB74D"
GREEN = "#A5D6A7"

start = pd.Timestamp(START)
price_df = pd.DataFrame({
    "time": start + pd.to_timedelta(price_hours, unit="h"),
    "price": price_usd,
})
acct_df = pd.DataFrame({
    "time": start + pd.to_timedelta(account_hours, unit="h"),
    "accounts": [v * 1e6 for v in accounts_millions],
})
corr_df = pd.DataFrame({
    "time": start + pd.to_timedelta(corr_hours, unit="h"),
    "corr": corr_values,
})

fig = plt.figure(figsize=(13.5, 8.5), dpi=220)
ax1 = fig.add_axes([0.0574, 0.4688, 0.8803, 0.4880])
ax3 = fig.add_axes([0.0574, 0.1137, 0.8803, 0.3053], sharex=ax1)
ax2 = ax1.twinx()

sns.lineplot(data=price_df, x="time", y="price", ax=ax1, color=BLUE,
             linewidth=2, estimator=None, sort=False, legend=False)
sns.lineplot(data=acct_df, x="time", y="accounts", ax=ax2, color=ORANGE,
             linewidth=2, estimator=None, sort=False, legend=False)
sns.lineplot(data=corr_df, x="time", y="corr", ax=ax3, color=GREEN,
             linewidth=2, estimator=None, sort=False, legend=False)

# top panel
ax1.set_title("SOL Price and Number of Accounts Over Time")
ax1.set_xlabel("")
ax2.set_xlabel("")
ax1.set_ylabel("SOL Price (USD)", color=BLUE)
ax2.set_ylabel("Number of Accounts", color=ORANGE)
ax1.tick_params(axis="y", labelcolor=BLUE)
ax2.tick_params(axis="y", colors=ORANGE)
ax1.tick_params(axis="x", labelbottom=False)
ax1.grid(True, alpha=0.3)
ax2.grid(False)

h1 = ax1.get_lines()[0]
h2 = ax2.get_lines()[0]
leg = ax1.legend([h1, h2], ["SOL Price (USD)", "Number of Accounts"], loc="upper left")
leg.get_frame().set_edgecolor("#555555")

# bottom panel
ax3.axhline(0, color="white", linestyle="--", alpha=0.7, linewidth=1)
ax3.set_ylim(-1.05, 1.05)
ax3.set_title("24h Sliding Correlation at 1h Resolution")
ax3.set_xlabel("Date")
ax3.set_ylabel("Correlation between SOL Price and Number of Accounts")
ax3.grid(True, alpha=0.3)
plt.setp(ax3.get_xticklabels(), rotation=30, ha="right")

fig.savefig("out.png", dpi=220)
